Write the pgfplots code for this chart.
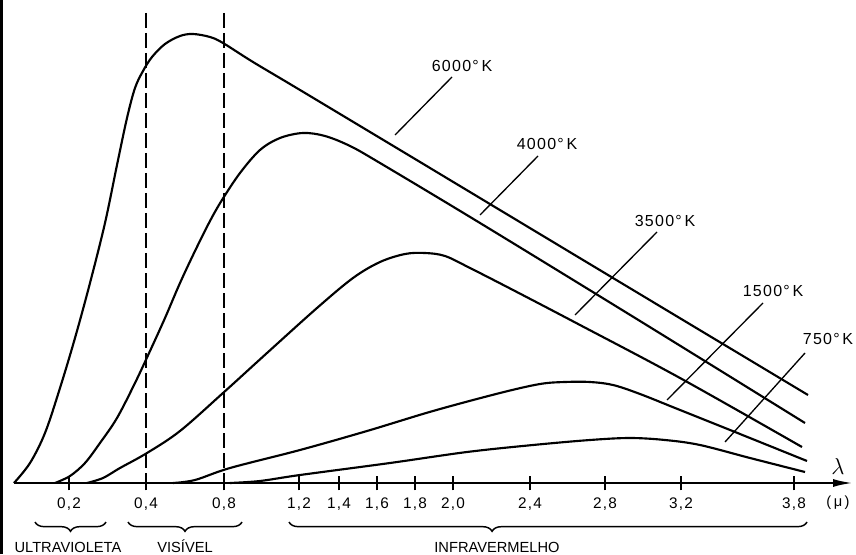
\documentclass[border=0pt]{standalone}
\usepackage{fontspec}
\setmainfont{Liberation Sans}
\usepackage{pgfplots}
\pgfplotsset{compat=1.18}
\usetikzlibrary{arrows.meta,decorations.pathreplacing}
\newfontfamily\lab[LetterSpace=8]{Liberation Sans}

\begin{document}
\begin{tikzpicture}
\begin{axis}[
  scale only axis, width=642pt, height=415.5pt,
  xmin=0, xmax=856, ymin=-71, ymax=483,
  axis x line=middle, axis y line=none,
  axis line style={draw=none},
  ytick=\empty,
  xtick={69,146,224,299,339,377,415,453,530,605,681,794},
  xticklabels={{0,2},{0,4},{0,8},{1,2},{1,4},{1,6},{1,8},{2,0},{2,4},{2,8},{3,2},{3,8}},
  tick align=center, major tick length=11pt,
  tick style={black, line width=1.1pt},
  xticklabel style={font=\lab\fontsize{11.5}{13}\selectfont, anchor=center, yshift=-10.5pt},
  clip=false,
]
\coordinate (BL) at (axis cs:0,-71);
\coordinate (TR) at (axis cs:856,483);

% left edge border
\draw[line width=2.2pt] (axis cs:1.5,-71) -- (axis cs:1.5,483);

% x axis with arrow
\draw[line width=1.7pt, -{Latex[length=15pt,width=6pt]}] (axis cs:14,0) -- (axis cs:853,0);

% dashed limits of visible region
\addplot[black, line width=1.1pt, dash pattern=on 11pt off 4pt] coordinates {(146,470) (146,7)};
\addplot[black, line width=1.1pt, dash pattern=on 11pt off 4pt] coordinates {(224,470) (224,7)};

% 6000 K
\addplot[black, line width=1.6pt, smooth, tension=0.55] coordinates {
(14,0) (30,20) (45,50) (60,95) (75,145) (90,200) (105,260) (117,318) (127,365)
(135,395) (143,412) (152,426) (165,439) (180,447) (193,449) (210,446) (223,440)
(253,421) (300,393) (430,315) (613,205) (808,88)};
% 4000 K
\addplot[black, line width=1.6pt, smooth, tension=0.55] coordinates {
(55,0) (70,7) (85,20) (100,40) (117,65) (135,100) (150,132) (165,165) (180,200)
(195,232) (210,262) (222,283) (240,310) (260,333) (280,345) (303,350) (325,347)
(350,337) (380,320) (480,260) (640,162) (805,60)};
% 3500 K
\addplot[black, line width=1.6pt, smooth, tension=0.55] coordinates {
(87,0) (103,5) (120,15) (147,30) (180,52) (223,90) (267,130) (317,175)
(353,205) (380,221) (405,229) (425,230) (445,227) (470,215) (513,193) (580,158)
(680,105) (802,36)};
% 1500 K
\addplot[black, line width=1.6pt, smooth, tension=0.55] coordinates {
(173,0) (195,3) (230,15) (300,33) (367,52) (433,72) (500,90) (540,99) (565,101)
(590,101) (613,98) (640,89) (680,73) (740,49) (807,22)};
% 750 K
\addplot[black, line width=1.6pt, smooth, tension=0.55] coordinates {
(230,0) (260,2) (300,8) (390,20) (467,31) (533,38) (590,43) (630,45) (665,43)
(700,38) (750,25) (805,11)};

% leader lines
\addplot[black, line width=1pt] coordinates {(452,406) (395,348)};
\addplot[black, line width=1pt] coordinates {(538,327) (480,268)};
\addplot[black, line width=1pt] coordinates {(657,251) (575,168)};
\addplot[black, line width=1pt] coordinates {(763,180) (667,83)};
\addplot[black, line width=1pt] coordinates {(805,130) (725,41)};

\node[font=\lab\fontsize{12}{14}\selectfont] at (axis cs:462,417) {6000°\,K};
\node[font=\lab\fontsize{12}{14}\selectfont] at (axis cs:547,339) {4000°\,K};
\node[font=\lab\fontsize{12}{14}\selectfont] at (axis cs:665,262) {3500°\,K};
\node[font=\lab\fontsize{12}{14}\selectfont] at (axis cs:773,192) {1500°\,K};
\node[font=\lab\fontsize{12}{14}\selectfont] at (axis cs:828,144) {750°\,K};

% lambda and unit
\node[font=\fontsize{18}{20}\selectfont] at (axis cs:838,17) {$\lambda$};
\node[font=\lab\fontsize{11}{13}\selectfont] at (axis cs:838,-20) {(\,μ\,)};

% braces
\draw[line width=1.1pt, decorate, decoration={brace, mirror, amplitude=7pt}]
  (axis cs:35,-39) -- (axis cs:106,-39);
\draw[line width=1.1pt, decorate, decoration={brace, mirror, amplitude=7pt}]
  (axis cs:128,-39) -- (axis cs:242,-39);
\draw[line width=1.1pt, decorate, decoration={brace, mirror, amplitude=7pt, aspect=0.392}]
  (axis cs:289,-39) -- (axis cs:807,-39);

\node[font=\fontsize{11}{12}\selectfont, anchor=base, inner sep=0pt] at (axis cs:68,-69) {ULTRAVIOLETA};
\node[font=\fontsize{11}{12}\selectfont, anchor=base, inner sep=0pt] at (axis cs:185,-69) {VISÍVEL};
\node[font=\fontsize{11}{12}\selectfont, anchor=base, inner sep=0pt] at (axis cs:497,-69) {INFRAVERMELHO};
\end{axis}
\pgfresetboundingbox
\path (BL) rectangle (TR);
\end{tikzpicture}
\end{document}
